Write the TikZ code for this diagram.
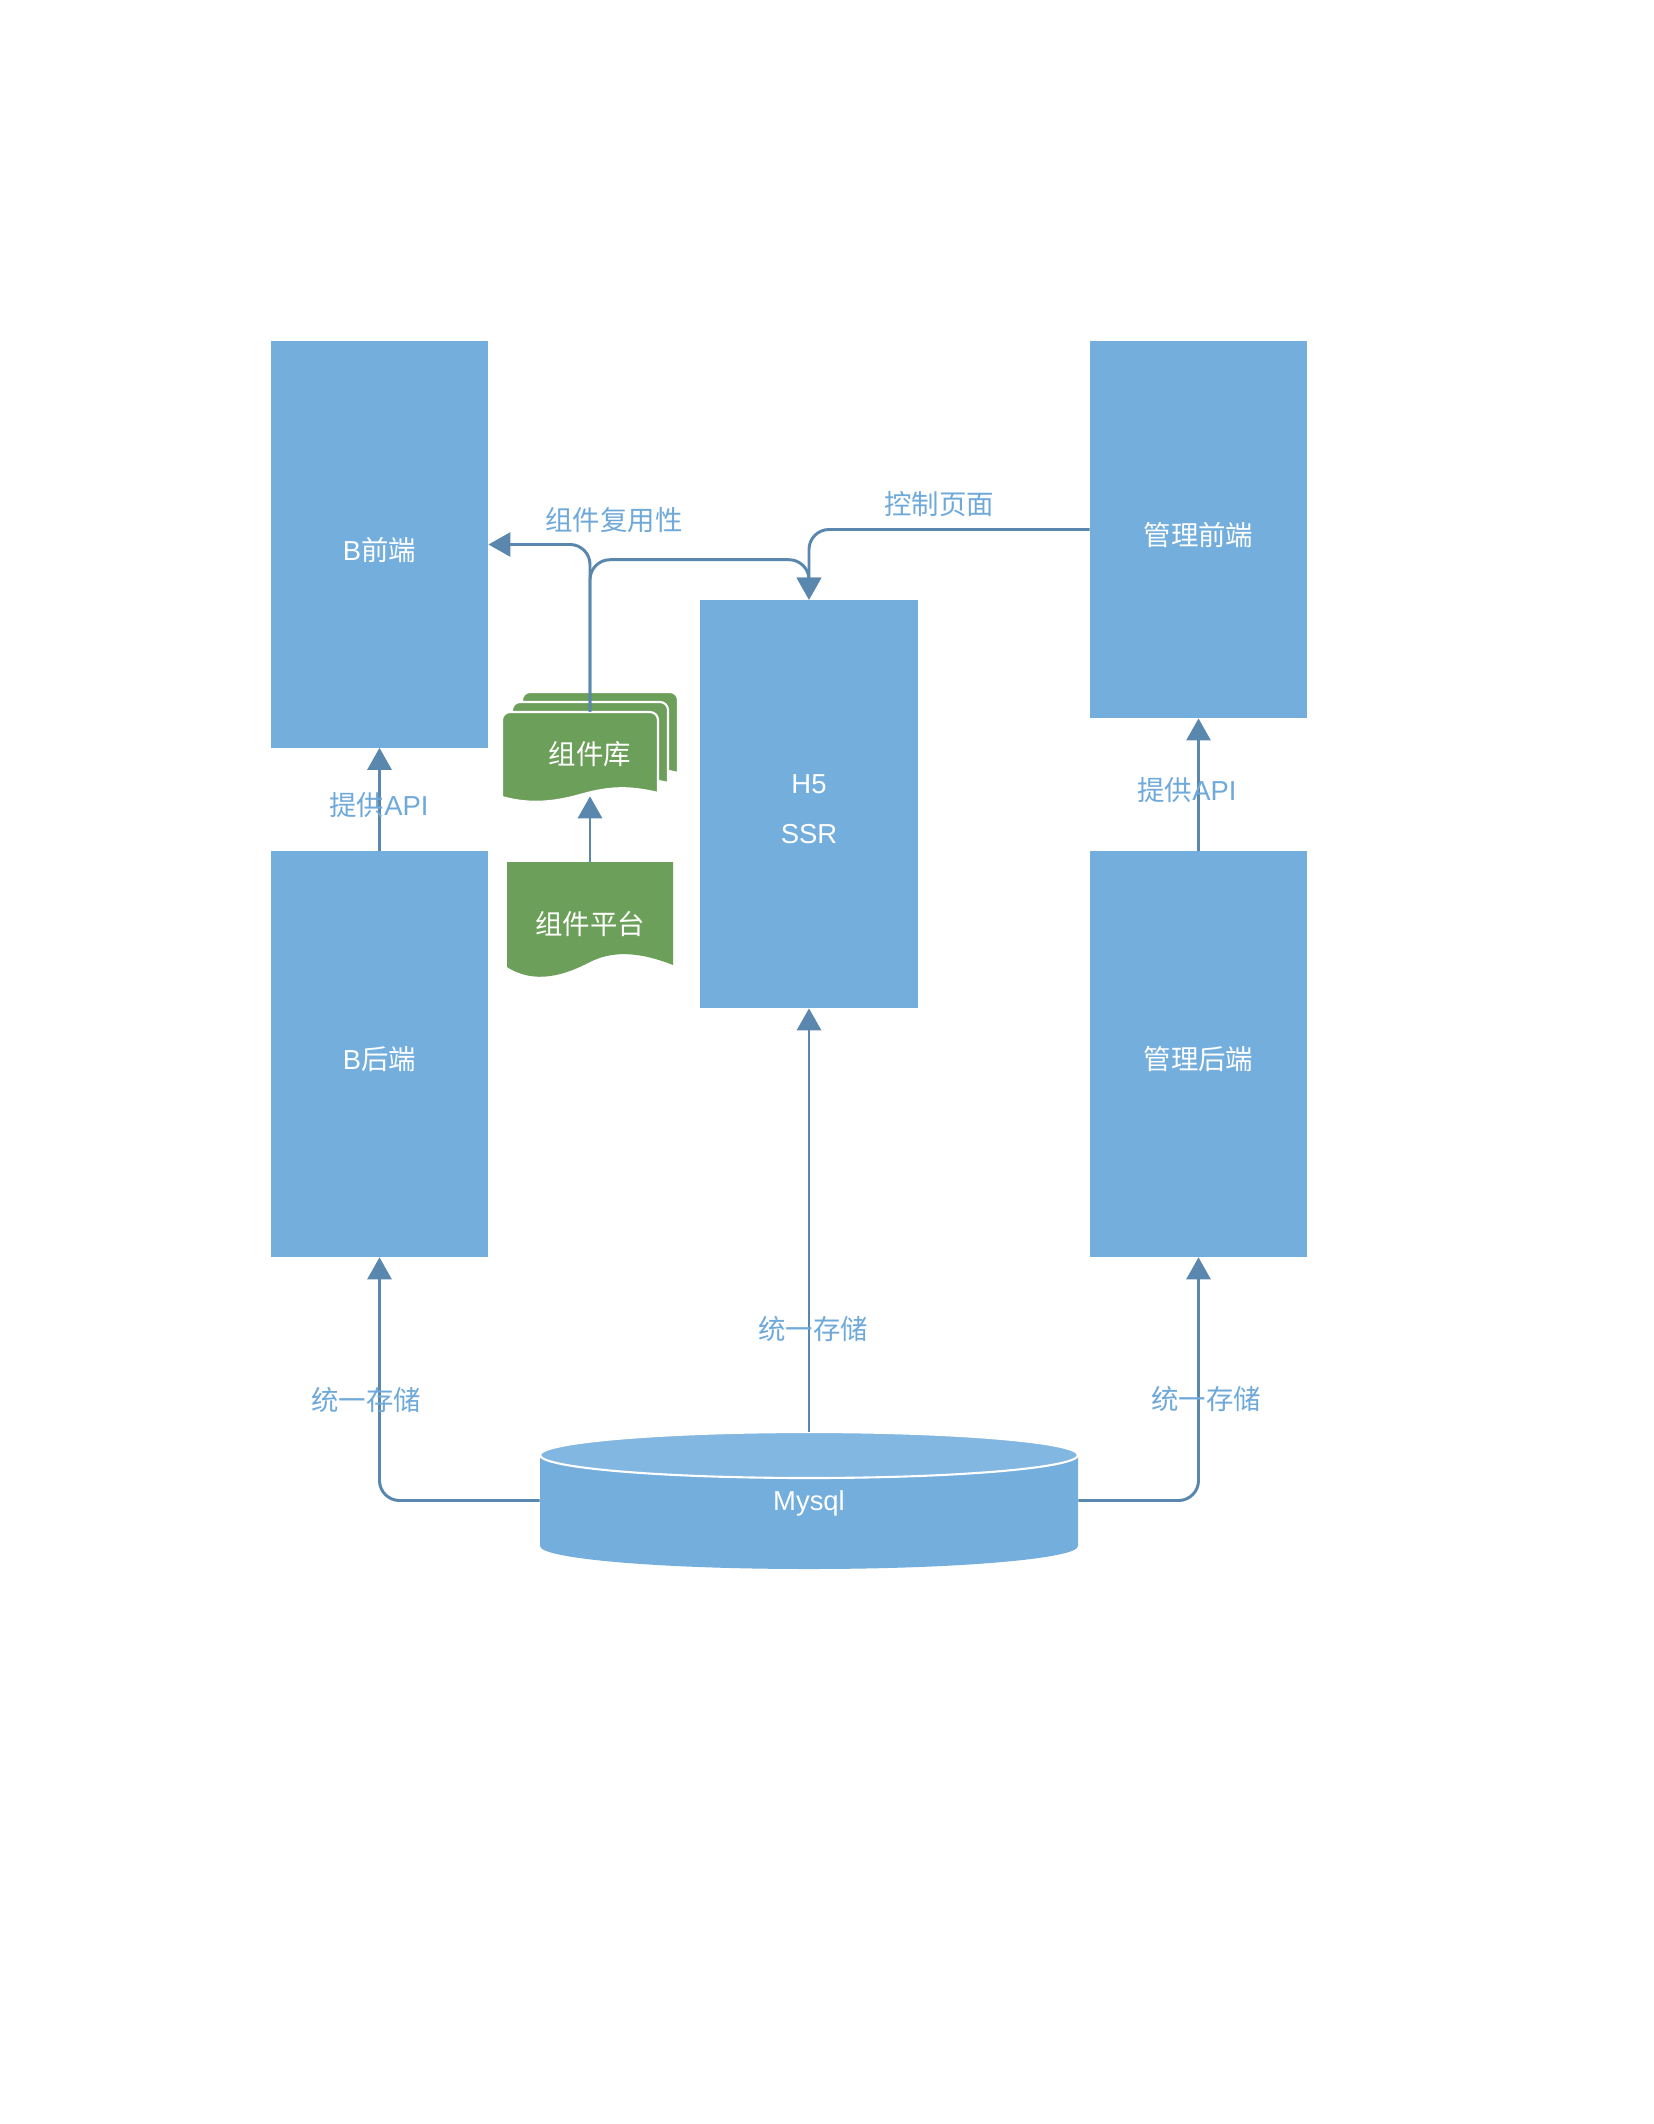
\documentclass[tikz,border=0pt]{standalone}
\usepackage{fontspec}
\setmainfont{Noto Sans CJK SC}
\newfontfamily\latin{Liberation Sans}
\usetikzlibrary{arrows.meta}

\definecolor{boxblue}{HTML}{73AEDD}
\definecolor{topblue}{HTML}{82B7E1}
\definecolor{lineblue}{HTML}{5A87AD}
\definecolor{lblblue}{HTML}{6FA9DA}
\definecolor{docgreen}{HTML}{6C9F59}

% lower a text a little, keeping its box
\def\dn#1{\raisebox{-0.13cm}[\height][\depth]{#1}}

\begin{document}
\begin{tikzpicture}[
  x=0.025cm, y=0.025cm,
  box/.style={
    rectangle, fill=boxblue, text=white,
    minimum width=5.43cm, minimum height=10.15cm,
    font=\fontsize{19.5}{24}\selectfont, align=center, inner sep=0pt
  },
  doctxt/.style={
    rectangle, text=white, inner sep=0pt,
    font=\fontsize{19.5}{24}\selectfont
  },
  docshape/.style={fill=docgreen, draw=white, line width=1.5pt},
  arr/.style={-{Triangle[length=0.55cm,width=0.6cm]}, line width=2.1pt, draw=lineblue},
  lbl/.style={text=lblblue, font=\fontsize{19.5}{24}\selectfont, inner sep=0pt},
]

\useasboundingbox (0,0) rectangle (1654,-2124);
\fill[white] (0,0) rectangle (1654,-2124);

% database cylinder
\fill[boxblue] (540,-1455) -- (540,-1546)
  arc[start angle=180, end angle=360, x radius=269, y radius=23]
  -- (1078,-1455) -- cycle;
\filldraw[fill=topblue, draw=white, line width=1.5pt]
  (809,-1455) ellipse[x radius=269, y radius=23];

% component documents
\foreach \d in {20,10,0}
  \filldraw[docshape, shift={(\d,\d)}] (502,-797) [rounded corners=0.2cm]
    -- (502,-712) -- (658,-712) [sharp corners] -- (658,-793)
    .. controls (625,-785) and (605,-788) .. (580,-795)
    .. controls (555,-802) and (530,-805) .. (502,-797) -- cycle;
\filldraw[docshape, draw=none] (507,-862) -- (673,-862) -- (673,-965)
  .. controls (635,-950) and (610,-952) .. (590,-962)
  .. controls (565,-975) and (535,-985) .. (507,-967) -- cycle;

\node[box] (bfe) at (379.5,-544.5) {\dn{{\latin B}前端}};
\node[box] (bbe) at (379.5,-1054)  {\dn{{\latin B}后端}};
\node[box, minimum width=5.45cm, minimum height=10.2cm,
  font=\fontsize{19.5}{35.5}\selectfont\latin] (h5) at (809,-804) {\dn{H5}\\\dn{SSR}};
\node[box, minimum height=9.43cm] (mfe) at (1198.5,-529.5) {\dn{管理前端}};
\node[box] (mbe) at (1198.5,-1054) {\dn{管理后端}};

\node[doctxt, minimum width=4.4cm, minimum height=2.1cm] (lib)  at (590,-754) {组件库};
\node[doctxt, minimum width=4.15cm, minimum height=3.1cm] (plat) at (590,-924) {组件平台};
\node[doctxt, minimum width=13.45cm, minimum height=3.425cm,
  font=\fontsize{19.5}{24}\selectfont\latin] (db) at (809,-1500.5)
  {\raisebox{-0.07cm}[\height][\depth]{Mysql}};

\draw[arr] (bbe) -- (bfe);
\draw[arr] (mbe) -- (mfe);
\draw[arr] (plat.north) -- (lib.south);
\draw[arr, rounded corners=0.5cm] (lib.north) |- (bfe.east);
\draw[arr, rounded corners=0.5cm] (lib.north) -- ++(0,152) -| (h5.north);
\draw[arr, rounded corners=0.5cm] (mfe.west) -| (h5.north);
\draw[arr] (db.north) -- (h5.south);
\draw[arr, rounded corners=0.5cm] (db.west) -| (bbe.south);
\draw[arr, rounded corners=0.5cm] (db.east) -| (mbe.south);

\node[lbl] (lreuse) at (614,-520)  {组件复用性};
\node[lbl] (lctrl)  at (939,-504)  {控制页面};
\node[lbl] (lapib)  at (379,-805)  {提供{\latin API}};
\node[lbl] (lapim)  at (1187,-790) {提供{\latin API}};
\node[lbl] (lstl)   at (366,-1400) {统一存储};
\node[lbl] (lstc)   at (813,-1329) {统一存储};
\node[lbl] (lstr)   at (1206,-1399) {统一存储};

\end{tikzpicture}
\end{document}
